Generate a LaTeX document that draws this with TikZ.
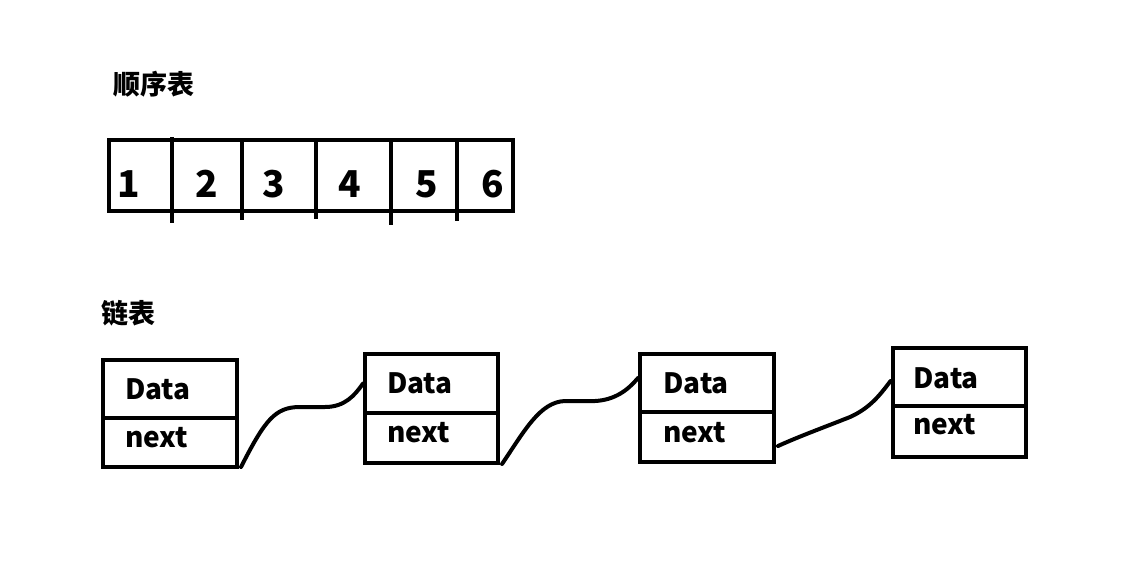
\documentclass[tikz,border=0pt]{standalone}
\usepackage{fontspec}
\setmainfont{Noto Sans CJK SC}
\begin{document}
\begin{tikzpicture}[x=1pt,y=-1pt,
  box/.style={draw=black,line width=4pt,rectangle,inner sep=0pt},
  lbl/.style={font=\fontsize{27}{30}\selectfont\bfseries,inner sep=0pt},
  num/.style={font=\fontsize{37}{40}\selectfont\bfseries,inner sep=0pt},
  fld/.style={font=\fontsize{28}{30}\selectfont\bfseries,inner sep=0pt,anchor=west},
  link/.style={line width=4pt,line cap=round,line join=round}]
\useasboundingbox[fill=white] (0,0) rectangle (1132,560);
% sequential list
\node[lbl] (t1) at (154,84) {顺序表};
\draw[line width=4pt] (109,140) rectangle (513,211);
\draw[line width=4pt] (172,137) -- (172,223);
\draw[line width=4pt] (242,140) -- (242,220);
\draw[line width=4pt] (316,140) -- (316,219);
\draw[line width=4pt] (391,140) -- (391,225);
\draw[line width=4pt] (457,140) -- (457,221);
\node[num] (a1) at (129,184) {1};
\node[num] (a2) at (207,184) {2};
\node[num] (a3) at (274,184) {3};
\node[num] (a4) at (350,184) {4};
\node[num] (a5) at (427,184) {5};
\node[num] (a6) at (493,184) {6};
% linked list
\node[lbl] (t2) at (128,313) {链表};
% node 1
\node[box,minimum width=134pt,minimum height=58pt] (d1) at (170,389) {};
\node[box,minimum width=134pt,minimum height=49pt] (n1) at (170,442.5) {};
\node[fld] (dt1) at (125,389) {Data};
\node[fld] (nt1) at (125,438) {next};
% node 2
\node[box,minimum width=133pt,minimum height=58.5pt] (d2) at (431.5,383.5) {};
\node[box,minimum width=133pt,minimum height=50pt] (n2) at (431.5,438) {};
\node[fld] (dt2) at (387,383) {Data};
\node[fld] (nt2) at (387,433) {next};
% node 3
\node[box,minimum width=134pt,minimum height=57.5pt] (d3) at (707,383) {};
\node[box,minimum width=134pt,minimum height=50.5pt] (n3) at (707,437) {};
\node[fld] (dt3) at (663,383) {Data};
\node[fld] (nt3) at (663,433) {next};
% node 4
\node[box,minimum width=133pt,minimum height=58pt] (d4) at (959,377) {};
\node[box,minimum width=133pt,minimum height=51pt] (n4) at (959,431.5) {};
\node[fld] (dt4) at (913,378) {Data};
\node[fld] (nt4) at (913,425) {next};
% connectors (note: yshift is in page direction, positive = up)
\draw[link] ([xshift=2pt,yshift=2pt]n1.south east) .. controls (265,420) and (275,407) .. (300,407) -- (325,407) .. controls (345,407) and (355,395) .. (d2.west);
\draw[link] ([xshift=2pt,yshift=1pt]n2.south east) .. controls (525,430) and (540,402) .. (565,401) -- (595,401) .. controls (615,400) and (628,390) .. ([yshift=5pt]d3.west);
\draw[link] ([xshift=2pt,yshift=-9pt]n3.east) .. controls (800,436) and (825,427) .. (850,417) .. controls (870,408) and (880,395) .. ([yshift=-4pt]d4.west);
\end{tikzpicture}
\end{document}
